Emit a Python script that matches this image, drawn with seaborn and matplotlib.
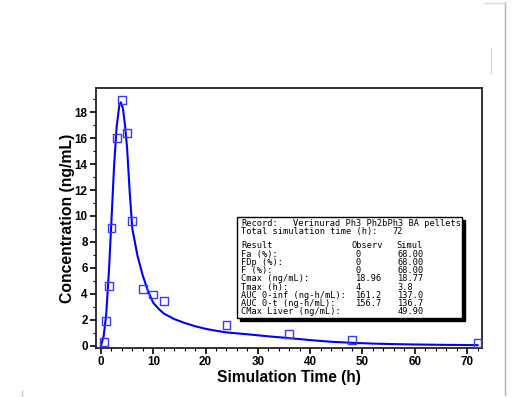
import numpy as np
import pandas as pd
import matplotlib
matplotlib.use("Agg")
import matplotlib.pyplot as plt
import seaborn as sns
from matplotlib.patches import Rectangle
from matplotlib.lines import Line2D
from matplotlib.ticker import MultipleLocator

# ---- data ----
obs_time = [0.5, 1, 1.5, 2, 3, 4, 5, 6, 8, 10, 12, 24, 36, 48, 72]
obs_conc = [0.3, 1.9, 4.6, 9.1, 16.0, 18.96, 16.4, 9.6, 4.4, 3.95, 3.45, 1.6, 0.88, 0.46, 0.18]

sim_time = [0, 0.5, 1, 1.5, 2, 2.5, 3, 3.5, 3.8, 4.2, 4.6, 5, 5.5, 6, 7, 8, 9, 10, 11, 12,
            14, 16, 18, 20, 22, 24, 28, 32, 36, 40, 44, 48, 52, 56, 60, 66, 72]
sim_conc = [0, 0.7, 2.4, 5.6, 9.6, 13.8, 16.9, 18.5, 18.77, 18.3, 17.0, 15.2, 11.8, 9.0,
            6.9, 5.4, 4.2, 3.3, 2.85, 2.48, 2.05, 1.75, 1.5, 1.3, 1.15, 1.02, 0.88, 0.72,
            0.58, 0.43, 0.3, 0.22, 0.16, 0.12, 0.09, 0.06, 0.04]

x_label = "Simulation Time (h)"
y_label = "Concentration (ng/mL)"

record_label = "Record:"
record_value = "Verinurad Ph3 Ph2bPh3 BA pellets"
total_label = "Total simulation time (h):"
total_value = "72"
header_row = ["Result", "Observ", "Simul"]
result_labels = ["Fa (%):", "FDp (%):", "F (%):", "Cmax (ng/mL):", "Tmax (h):",
                 "AUC 0-inf (ng-h/mL):", "AUC 0-t (ng-h/mL):", "CMax Liver (ng/mL):"]
observ_values = ["0", "0", "0", "18.96", "4", "161.2", "156.7", ""]
simul_values = ["68.00", "68.00", "68.00", "18.77", "3.8", "137.0", "136.7", "49.90"]

# ---- figure ----
W, H = 514, 397
fig = plt.figure(figsize=(W / 100, H / 100), dpi=100)
fig.patch.set_facecolor("white")

def fx(x):
    return x / W

def fy(y):
    return 1 - y / H

ax = fig.add_axes([fx(96), fy(348), fx(482) - fx(96), fy(88) - fy(348)])

sim_df = pd.DataFrame({"t": sim_time, "c": sim_conc})
obs_df = pd.DataFrame({"t": obs_time, "c": obs_conc})

sns.lineplot(data=sim_df, x="t", y="c", ax=ax, color="#0000ff", linewidth=1.5,
             estimator=None, sort=False)
sns.scatterplot(data=obs_df, x="t", y="c", ax=ax, marker="s", s=32,
                facecolor="none", edgecolor="#3a3aff", linewidth=1.0, zorder=3)

ax.set_xlim(-0.95, 72.85)
ax.set_ylim(-0.18, 19.87)
ax.xaxis.set_major_locator(MultipleLocator(10))
ax.xaxis.set_minor_locator(MultipleLocator(2))
ax.yaxis.set_major_locator(MultipleLocator(2))
ax.yaxis.set_minor_locator(MultipleLocator(1))
ax.tick_params(axis="both", which="major", direction="out", length=4, width=1.2,
               labelsize=8.4, pad=2, colors="black")
ax.tick_params(axis="both", which="minor", direction="out", length=2, width=0.8)
for lab in ax.get_xticklabels() + ax.get_yticklabels():
    lab.set_fontweight("bold")
    lab.set_fontfamily("Liberation Sans")

for sp in ax.spines.values():
    sp.set_color("#222222")
    sp.set_linewidth(1.3)

ax.set_xlabel(x_label, fontsize=11.2, fontweight="bold", family="Liberation Sans", labelpad=1)
ax.set_ylabel(y_label, fontsize=11.3, fontweight="bold", family="Liberation Sans", labelpad=0)

# ---- info box ----
bx0, by0, bx1, by1 = 237, 217, 462, 318
shadow = Rectangle((fx(bx0 + 3), fy(by1 + 3)), fx(bx1) - fx(bx0), fy(by0) - fy(by1),
                   transform=fig.transFigure, facecolor="black", edgecolor="black", zorder=5)
box = Rectangle((fx(bx0), fy(by1)), fx(bx1) - fx(bx0), fy(by0) - fy(by1),
                transform=fig.transFigure, facecolor="white", edgecolor="black",
                linewidth=1.0, zorder=6)
fig.add_artist(shadow)
fig.add_artist(box)

mono = dict(family="DejaVu Sans Mono", fontsize=6.2, va="center", ha="left", zorder=7,
            color="black")
fig.text(fx(241), fy(223.5), record_label, **mono)
fig.text(fx(293), fy(223.5), record_value, **mono)
fig.text(fx(241), fy(231.5), total_label, **mono)
fig.text(fx(392), fy(231.5), total_value, **mono)
fig.text(fx(241), fy(246), header_row[0], **mono)
fig.text(fx(351.5), fy(246), header_row[1], **mono)
fig.text(fx(396.5), fy(246), header_row[2], **mono)
for i, (lab, ov, sv) in enumerate(zip(result_labels, observ_values, simul_values)):
    yy = 254.3 + i * 8.2
    fig.text(fx(241), fy(yy), lab, **mono)
    fig.text(fx(356), fy(yy), ov, **mono)
    fig.text(fx(397.5), fy(yy), sv, **mono)

# ---- stray frame lines from the original screenshot ----
fig.add_artist(Line2D([fx(505.3), fx(505.3)], [fy(2), fy(395)], color="#b0b0b0", lw=1.0))
fig.add_artist(Line2D([fx(484), fx(505)], [fy(3), fy(3)], color="#dddddd", lw=1.0))
fig.add_artist(Line2D([fx(491.3), fx(491.3)], [fy(48), fy(73)], color="#d8d8d8", lw=1.0))
fig.add_artist(Line2D([fx(22), fx(22)], [fy(391), fy(397)], color="#c8c8c8", lw=1.0))

fig.savefig("out.png", dpi=100, facecolor="white")
